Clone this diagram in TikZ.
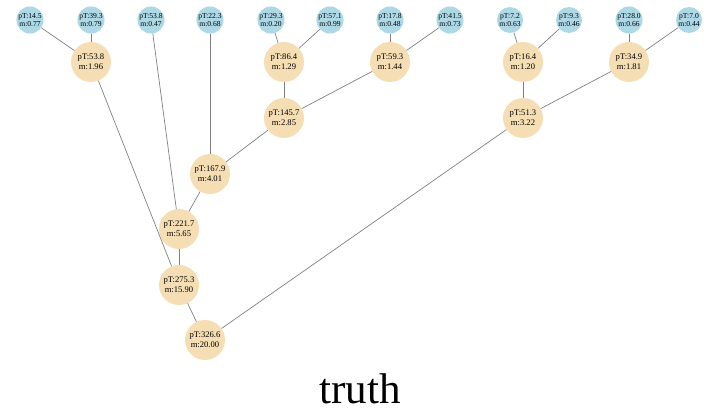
\documentclass[tikz,border=0pt]{standalone}
\usepackage{fontspec}
\setmainfont{Liberation Serif}
\begin{document}
\begin{tikzpicture}[x=1pt,y=-1pt,
  leaf/.style={circle,fill={rgb,255:red,173;green,216;blue,230},minimum size=26pt,inner sep=0pt,font=\fontsize{7.6}{8.4}\selectfont,align=center},
  inner/.style={circle,fill={rgb,255:red,245;green,222;blue,179},minimum size=40pt,inner sep=0pt,font=\fontsize{8.6}{10}\selectfont,align=center},
  edge/.style={draw=gray,line width=0.7pt}]
\useasboundingbox (0,0) rectangle (720,414);
% leaves
\node[leaf] (l1) at (30,20) {pT:14.5\\m:0.77};
\node[leaf] (l2) at (91,20) {pT:39.3\\m:0.79};
\node[leaf] (l3) at (151,20) {pT:53.8\\m:0.47};
\node[leaf] (l4) at (210,20) {pT:22.3\\m:0.68};
\node[leaf] (l5) at (271,20) {pT:29.3\\m:0.20};
\node[leaf] (l6) at (330,20) {pT:57.1\\m:0.99};
\node[leaf] (l7) at (390,20) {pT:17.8\\m:0.48};
\node[leaf] (l8) at (450,20) {pT:41.5\\m:0.73};
\node[leaf] (l9) at (510,20) {pT:7.2\\m:0.63};
\node[leaf] (l10) at (569,20) {pT:9.3\\m:0.46};
\node[leaf] (l11) at (629,20) {pT:28.0\\m:0.66};
\node[leaf] (l12) at (689,20) {pT:7.0\\m:0.44};
% internal
\node[inner] (a) at (91,62) {pT:53.8\\m:1.96};
\node[inner] (b) at (284,62) {pT:86.4\\m:1.29};
\node[inner] (c) at (390,62) {pT:59.3\\m:1.44};
\node[inner] (d) at (523,62) {pT:16.4\\m:1.20};
\node[inner] (e) at (629,62) {pT:34.9\\m:1.81};
\node[inner] (f) at (284,118) {pT:145.7\\m:2.85};
\node[inner] (g) at (523,118) {pT:51.3\\m:3.22};
\node[inner] (h) at (210,174) {pT:167.9\\m:4.01};
\node[inner] (i) at (179,229) {pT:221.7\\m:5.65};
\node[inner] (j) at (179,285) {pT:275.3\\m:15.90};
\node[inner] (k) at (205,340) {pT:326.6\\m:20.00};
% edges
\path[edge] (l1) -- (a);
\path[edge] (l2) -- (a);
\path[edge] (l5) -- (b);
\path[edge] (l6) -- (b);
\path[edge] (l7) -- (c);
\path[edge] (l8) -- (c);
\path[edge] (l9) -- (d);
\path[edge] (l10) -- (d);
\path[edge] (l11) -- (e);
\path[edge] (l12) -- (e);
\path[edge] (b) -- (f);
\path[edge] (c) -- (f);
\path[edge] (d) -- (g);
\path[edge] (e) -- (g);
\path[edge] (l4) -- (h);
\path[edge] (f) -- (h);
\path[edge] (l3) -- (i);
\path[edge] (h) -- (i);
\path[edge] (a) -- (j);
\path[edge] (i) -- (j);
\path[edge] (j) -- (k);
\path[edge] (g) -- (k);
\node[font=\fontsize{43}{45}\selectfont,anchor=base] (title) at (360,403) {truth};
\end{tikzpicture}
\end{document}
